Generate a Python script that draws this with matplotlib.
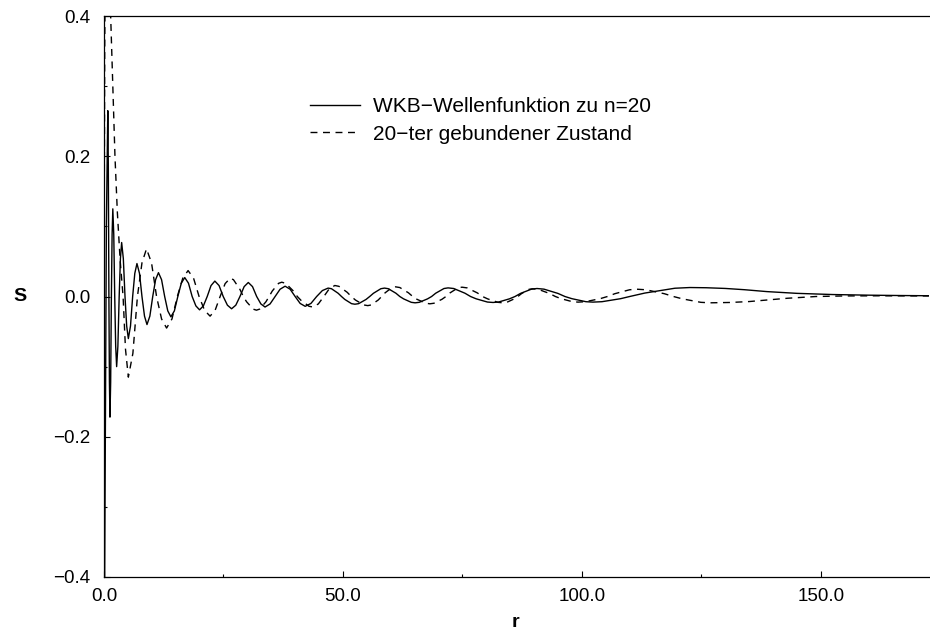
import matplotlib
matplotlib.use("Agg")
import matplotlib.pyplot as plt
from matplotlib.ticker import MultipleLocator, FixedLocator, FixedFormatter

plt.rcParams['font.family'] = ['Liberation Sans', 'DejaVu Sans']

# WKB-Wellenfunktion zu n=20, points (r, S)
r_wkb = [0.0, 0.5, 0.8, 0.91, 1.03, 1.14, 1.25, 1.4, 1.55, 1.7, 1.85, 2.05, 2.25, 2.45,
         2.65, 2.91, 3.18, 3.44, 3.7, 4.05, 4.4, 4.75, 5.1, 5.55, 6.0, 6.45, 6.9, 7.43,
         7.95, 8.48, 9.0, 9.6, 10.2, 10.8, 11.4, 12.05, 12.7, 13.35, 14.0, 14.73, 15.45,
         16.18, 16.9, 17.68, 18.45, 19.23, 20.0, 20.8, 21.6, 22.4, 23.2, 24.08, 24.95,
         25.83, 26.7, 27.58, 28.45, 29.33, 30.2, 31.08, 31.95, 32.83, 33.7, 34.75, 35.8,
         36.85, 37.9, 38.95, 40.0, 41.05, 42.1, 43.3, 44.5, 45.7, 46.9, 47.6, 49.0, 49.7,
         50.4, 51.8, 52.5, 53.28, 54.83, 55.6, 56.38, 57.93, 58.7, 59.5, 61.1, 61.9,
         62.7, 64.3, 65.1, 65.96, 67.69, 68.55, 69.41, 71.14, 72.0, 73.18, 75.53, 76.7,
         77.88, 80.23, 81.4, 82.55, 84.85, 86.0, 87.15, 89.45, 90.6, 92.06, 94.99, 96.45,
         97.91, 100.84, 102.3, 104.2, 108.1, 110.0, 113.15, 119.45, 122.6, 126.0, 130.0,
         134.0, 138.7, 145.0, 152.5, 160.0, 166.5, 172.6]
s_wkb = [-0.60, 0.10, 0.265, 0.187, 0.0, -0.122, -0.172, -0.122, 0.0, 0.088, 0.125,
         0.088, 0.0, -0.071, -0.100, -0.071, 0.0, 0.054, 0.077, 0.054, 0.0, -0.042,
         -0.060, -0.042, 0.0, 0.033, 0.047, 0.033, 0.0, -0.028, -0.040, -0.028, 0.0,
         0.024, 0.034, 0.024, 0.0, -0.0205, -0.029, -0.0205, 0.0, 0.019, 0.027, 0.019,
         0.0, -0.0134, -0.019, -0.0134, 0.0, 0.0156, 0.022, 0.0156, 0.0, -0.0124,
         -0.0175, -0.0124, 0.0, 0.0141, 0.020, 0.0141, 0.0, -0.0106, -0.015, -0.0106,
         0.0, 0.0104, 0.0147, 0.0104, 0.0, -0.0099, -0.014, -0.0099, 0.0, 0.0085, 0.012,
         0.0111, 0.0046, 0.0, -0.0042, -0.0102, -0.011, -0.0102, -0.0042, 0.0, 0.0046,
         0.0111, 0.012, 0.0111, 0.0046, 0.0, -0.0034, -0.0083, -0.009, -0.0083, -0.0034,
         0.0, 0.0047, 0.0114, 0.0123, 0.0114, 0.0047, 0.0, -0.0033, -0.0079, -0.0085,
         -0.0079, -0.0033, 0.0, 0.0044, 0.0105, 0.0114, 0.0105, 0.0044, 0.0, -0.0031,
         -0.0074, -0.008, -0.0074, -0.0031, 0.0, 0.0049, 0.0118, 0.0128, 0.0125, 0.0115,
         0.0097, 0.0070, 0.0045, 0.0028, 0.0019, 0.0014, 0.0011]

# 20-ter gebundener Zustand, points (r, S)
r_bound = [0.0, 0.15, 0.3, 0.8, 1.1, 1.4, 1.85, 2.3, 2.8, 3.4, 4.0, 4.5, 5.1, 6.05, 7.0,
           7.95, 8.9, 9.95, 11.0, 12.05, 13.1, 14.23, 15.35, 16.48, 17.6, 18.75, 19.9,
           21.05, 22.2, 23.25, 24.3, 25.35, 26.4, 27.09, 28.46, 29.15, 29.84, 31.21, 31.9,
           32.56, 33.89, 34.55, 35.21, 36.54, 37.2, 38.01, 39.64, 40.45, 41.26, 42.89,
           43.7, 44.85, 46.0, 47.15, 48.3, 49.16, 50.89, 51.75, 52.61, 54.34, 55.2, 55.93,
           57.38, 58.1, 58.83, 60.28, 61.0, 61.9, 63.7, 64.6, 65.5, 67.3, 68.2, 69.04,
           70.71, 71.55, 72.39, 74.06, 74.9, 75.98, 78.13, 79.2, 80.28, 82.43, 83.5,
           84.28, 85.83, 86.6, 87.38, 88.93, 89.7, 90.89, 93.26, 94.45, 95.64, 98.01,
           99.2, 100.74, 103.81, 105.35, 106.89, 109.96, 111.5, 113.41, 117.24, 119.15,
           121.06, 124.89, 126.8, 131.0, 135.0, 138.7, 143.0, 149.0, 155.0, 162.0, 172.6]
s_bound = [0.0, 0.35, 0.50, 0.52, 0.47, 0.40, 0.30, 0.20, 0.12, 0.05, 0.0, -0.075, -0.115,
           -0.081, 0.0, 0.048, 0.068, 0.048, 0.0, -0.032, -0.045, -0.032, 0.0, 0.026,
           0.037, 0.026, 0.0, -0.0198, -0.028, -0.0198, 0.0, 0.0184, 0.026, 0.024, 0.010,
           0.0, -0.0075, -0.018, -0.0195, -0.018, -0.0075, 0.0, 0.0078, 0.0188, 0.0204,
           0.0188, 0.0078, 0.0, -0.0057, -0.0139, -0.015, -0.0106, 0.0, 0.0111, 0.0157,
           0.0145, 0.0060, 0.0, -0.0050, -0.0120, -0.013, -0.0120, -0.0050, 0.0, 0.0053,
           0.0128, 0.0138, 0.0128, 0.0053, 0.0, -0.0040, -0.0096, -0.0104, -0.0096,
           -0.0040, 0.0, 0.0051, 0.0123, 0.0133, 0.0123, 0.0051, 0.0, -0.0034, -0.0083,
           -0.009, -0.0083, -0.0034, 0.0, 0.0042, 0.0102, 0.011, 0.0102, 0.0042, 0.0,
           -0.0031, -0.0074, -0.008, -0.0074, -0.0031, 0.0, 0.0040, 0.0096, 0.0104,
           0.0096, 0.0040, 0.0, -0.0034, -0.0083, -0.009, -0.0085, -0.0072, -0.0050,
           -0.0025, 0.0, 0.0008, 0.0010, 0.0008]

fig = plt.figure(figsize=(9.3, 6.31), dpi=100)
ax = fig.add_axes([0.1118, 0.0856, 0.887, 0.889])

ax.plot(r_wkb, s_wkb, color='black', lw=1.0, label='WKB\u2212Wellenfunktion zu n=20')
ax.plot(r_bound, s_bound, color='black', lw=1.0, dashes=(5, 4),
        label='20\u2212ter gebundener Zustand')

ax.set_xlim(0, 172.6)
ax.set_ylim(-0.4, 0.4)

ax.xaxis.set_major_locator(FixedLocator([0, 50, 100, 150]))
ax.xaxis.set_major_formatter(FixedFormatter(['0.0', '50.0', '100.0', '150.0']))
ax.xaxis.set_minor_locator(MultipleLocator(25))
ax.yaxis.set_major_locator(FixedLocator([-0.4, -0.2, 0.0, 0.2, 0.4]))
ax.yaxis.set_major_formatter(FixedFormatter(['\u22120.4', '\u22120.2', '0.0', '0.2', '0.4']))
ax.yaxis.set_minor_locator(MultipleLocator(0.1))
ax.tick_params(which='both', direction='in', top=False, right=False, labelsize=13.5)
ax.tick_params(axis='x', pad=8)
ax.tick_params(axis='y', pad=10)
ax.tick_params(which='major', length=4.5, width=0.8)
ax.tick_params(which='minor', length=2.3, width=0.8)
for sp in ax.spines.values():
    sp.set_linewidth(0.9)
ax.spines['right'].set_visible(False)

ax.set_xlabel('r', fontsize=14, fontweight='bold')
ax.set_ylabel('S', fontsize=14, fontweight='bold', rotation=0, va='center', ha='center')
ax.xaxis.set_label_coords(0.499, -0.066)
ax.yaxis.set_label_coords(-0.102, 0.5)

ax.legend(loc='upper left', bbox_to_anchor=(0.24, 0.87), frameon=False, fontsize=15,
          handlelength=2.4, handletextpad=0.6, labelspacing=0.4, borderaxespad=0)

fig.savefig('out.png', dpi=100)
